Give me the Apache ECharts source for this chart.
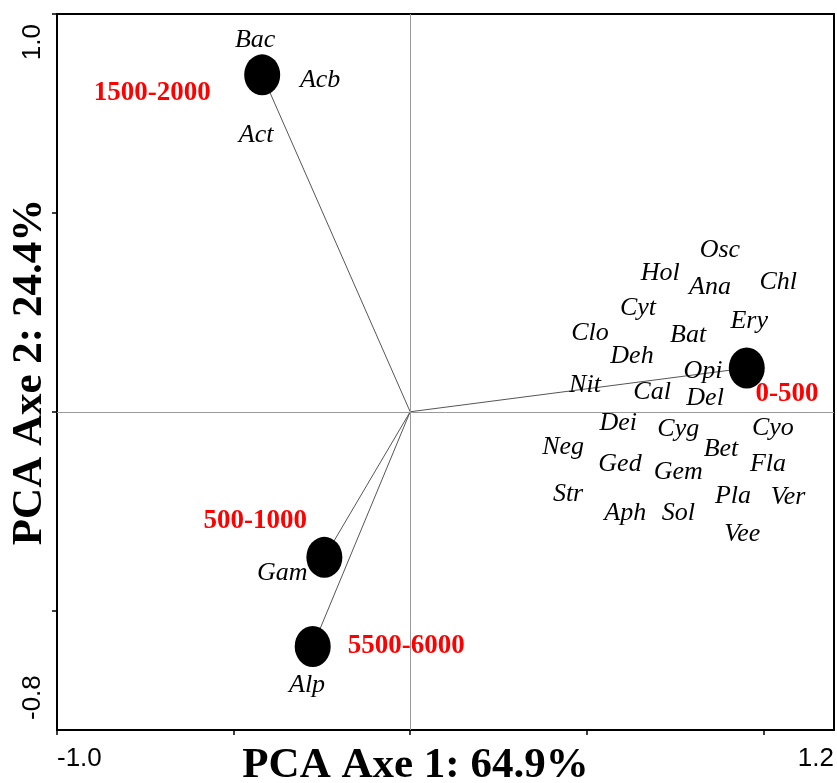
<!DOCTYPE html>
<html>
<head>
<meta charset="utf-8">
<script src="https://cdn.jsdelivr.net/npm/echarts@6/dist/echarts.min.js"></script>
<style>
  html, body { margin: 0; padding: 0; background: #fff; }
  #chart { width: 837px; height: 783px; }
</style>
</head>
<body>
<div id="chart"></div>
<script>
// Axis ticks and labels
const xTicks = [-1.0, -0.5, 0, 0.5, 1.0];
const xTickLabels = [-1.0, 1.2];
const yTicks = [-0.5, 0, 0.5, 1.0];
const yTickLabels = [-0.8, 1.0];

// Altitude groups (big black dots) and their red labels
const groupNames = ['0-500', '500-1000', '1500-2000', '5500-6000'];
const groupX = [0.953, -0.243, -0.419, -0.276];
const groupY = [0.110, -0.366, 0.847, -0.590];
const groupLabelX = [1.067, -0.439, -0.730, -0.011];
const groupLabelY = [0.045, -0.274, 0.802, -0.590];

// Taxa labels
const taxaNames = ['Bac', 'Acb', 'Act', 'Gam', 'Alp', 'Osc', 'Hol', 'Ana', 'Chl', 'Cyt',
  'Ery', 'Clo', 'Bat', 'Deh', 'Opi', 'Nit', 'Cal', 'Del', 'Dei', 'Cyg',
  'Cyo', 'Neg', 'Bet', 'Ged', 'Gem', 'Fla', 'Str', 'Pla', 'Ver', 'Aph', 'Sol', 'Vee'];
const taxaX = [-0.439, -0.255, -0.436, -0.362, -0.292, 0.877, 0.708, 0.849, 1.042, 0.645,
  0.960, 0.509, 0.787, 0.628, 0.829, 0.495, 0.685, 0.835, 0.589, 0.759,
  1.027, 0.433, 0.880, 0.594, 0.759, 1.013, 0.447, 0.914, 1.070, 0.609, 0.759, 0.940];
const taxaY = [0.935, 0.834, 0.696, -0.405, -0.688, 0.407, 0.349, 0.312, 0.327, 0.261,
  0.229, 0.198, 0.193, 0.141, 0.101, 0.068, 0.050, 0.035, -0.028, -0.043,
  -0.040, -0.090, -0.093, -0.131, -0.153, -0.131, -0.206, -0.211, -0.214, -0.254, -0.254, -0.307];

const chart = echarts.init(document.getElementById('chart'));

// one thin line from the origin to each group
const vectorSeries = groupNames.map((name, i) => ({
  type: 'line',
  data: [[0, 0], [groupX[i], groupY[i]]],
  showSymbol: false,
  silent: true,
  lineStyle: { color: '#555', width: 1 },
  z: 2
}));

chart.setOption({
  animation: false,
  grid: {
    left: 57, right: 3, top: 14, bottom: 53,
    outerBoundsMode: 'none', containLabel: false,
    show: true, borderColor: '#000', borderWidth: 2
  },
  xAxis: {
    type: 'value',
    min: -1.0,
    max: 1.2,
    name: 'PCA Axe 1: 64.9%',
    nameLocation: 'middle',
    nameGap: 14,
    nameMoveOverlap: false,
    nameTextStyle: {
      fontFamily: 'Liberation Serif', fontWeight: 'bold', fontSize: 43, color: '#000',
      padding: [0, 60, 0, 0]
    },
    axisLine: { onZero: false, lineStyle: { color: '#000', width: 2 } },
    axisTick: { customValues: xTicks, length: 5, lineStyle: { color: '#000', width: 1.5 } },
    axisLabel: {
      customValues: xTickLabels,
      formatter: v => v.toFixed(1),
      fontFamily: 'Liberation Sans', fontSize: 26, color: '#000', margin: 16,
      alignMinLabel: 'left', alignMaxLabel: 'right'
    },
    splitLine: { show: false }
  },
  yAxis: {
    type: 'value',
    min: -0.8,
    max: 1.0,
    name: 'PCA Axe 2: 24.4%',
    nameLocation: 'middle',
    nameRotate: 90,
    nameGap: 6,
    nameMoveOverlap: false,
    nameTextStyle: { fontFamily: 'Liberation Serif', fontWeight: 'bold', fontSize: 43, color: '#000' },
    axisLine: { onZero: false, lineStyle: { color: '#000', width: 2 } },
    axisTick: { customValues: yTicks, length: 5, lineStyle: { color: '#000', width: 1.5 } },
    axisLabel: {
      customValues: yTickLabels,
      formatter: v => v.toFixed(1),
      rotate: 90,
      fontFamily: 'Liberation Sans', fontSize: 26, color: '#000', margin: 11,
      alignMinLabel: 'left', alignMaxLabel: 'right',
      padding: [0, 10, 0, 10]
    },
    splitLine: { show: false }
  },
  series: [
    ...vectorSeries,
    {
      type: 'scatter',
      data: groupX.map((x, i) => [x, groupY[i]]),
      symbolSize: [36, 41],
      itemStyle: { color: '#000', opacity: 1 },
      silent: true,
      z: 3
    },
    {
      type: 'scatter',
      data: groupNames.map((name, i) => ({ name: name, value: [groupLabelX[i], groupLabelY[i]] })),
      symbolSize: 0,
      itemStyle: { opacity: 1 },
      silent: true,
      z: 4,
      label: {
        show: true, position: 'inside', formatter: '{b}',
        fontFamily: 'Liberation Serif', fontWeight: 'bold', fontSize: 27, color: '#ff0000'
      }
    },
    {
      type: 'scatter',
      data: taxaNames.map((name, i) => ({ name: name, value: [taxaX[i], taxaY[i]] })),
      symbolSize: 0,
      itemStyle: { opacity: 1 },
      silent: true,
      z: 4,
      label: {
        show: true, position: 'inside', formatter: '{b}',
        fontFamily: 'Liberation Serif', fontStyle: 'italic', fontSize: 26, color: '#000'
      },
      markLine: {
        silent: true,
        symbol: 'none',
        label: { show: false },
        lineStyle: { color: '#999', width: 1, type: 'solid' },
        data: [{ xAxis: 0 }, { yAxis: 0 }]
      }
    }
  ]
});
</script>
</body>
</html>
